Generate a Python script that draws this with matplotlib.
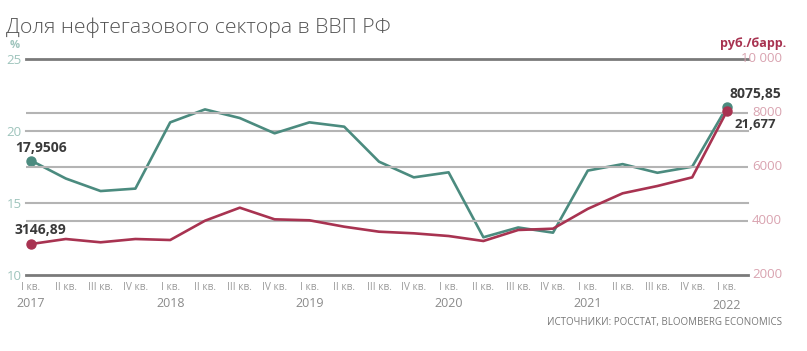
import matplotlib
matplotlib.use('Agg')
import matplotlib.pyplot as plt

# data
quarters = ['I кв.', 'II кв.', 'III кв.', 'IV кв.'] * 5 + ['I кв.']
years = ['2017', '2018', '2019', '2020', '2021', '2022']
share = [17.9506, 16.7, 15.83, 16.0, 20.6, 21.5, 20.9, 19.84, 20.6, 20.3, 17.87,
         16.78, 17.13, 12.62, 13.3, 12.94, 17.25, 17.7, 17.1, 17.52, 21.677]
rub_barrel = [3146.89, 3333, 3211, 3333, 3296, 4011, 4493, 4062, 4026, 3789, 3604,
              3544, 3444, 3259, 3667, 3716, 4450, 5025, 5296, 5617, 8075.85]
left_ticks = [10, 15, 20, 25]
right_ticks = [2000, 4000, 6000, 8000, 10000]

green = '#4b8b7f'
red = '#a83351'
plt.rcParams['font.family'] = ['Open Sans', 'DejaVu Sans']

W, H = 807, 351
fig = plt.figure(figsize=(W / 100, H / 100), dpi=100)
ax = fig.add_axes([26 / W, (H - 275) / H, (748 - 26) / W, (275 - 59) / H])
ax2 = ax.twinx()

x = list(range(len(share)))
ax.set_xlim(-5 / 34.8, (748 - 31) / 34.8)
ax.set_ylim(10, 25)
ax2.set_ylim(2000, 10000)

# gridlines for both scales
for v in left_ticks:
    edge = v in (10, 25)
    ax.axhline(v, color='#7a7a7a' if edge else '#b4b4b4', lw=2.0 if edge else 1.5,
               zorder=1, clip_on=False)
for v in right_ticks:
    if v in (2000, 10000):
        continue
    ax2.axhline(v, color='#b4b4b4', lw=1.5, zorder=1)

ax.plot(x, share, color=green, lw=1.9, zorder=3)
ax2.plot(x, rub_barrel, color=red, lw=1.9, zorder=3)
ax.plot([x[0], x[-1]], [share[0], share[-1]], 'o', color=green, ms=6.5, zorder=4)
ax2.plot([x[0], x[-1]], [rub_barrel[0], rub_barrel[-1]], 'o', color=red, ms=6.5, zorder=4)

for a in (ax, ax2):
    for s in a.spines.values():
        s.set_visible(False)
    a.tick_params(length=0)
ax.set_yticks(left_ticks)
ax.set_yticklabels([str(v) for v in left_ticks], color='#9ec4bc', fontsize=9.5)
ax.tick_params(axis='y', pad=3)
ax2.set_yticks([])
for v in right_ticks:
    lbl = f'{v:,}'.replace(',', ' ') if v >= 10000 else str(v)
    ax2.text((782 - 26) / 722, v, lbl, transform=ax2.get_yaxis_transform(),
             ha='right', va='center', color='#d9a3b0', fontsize=9.5)

ax.set_xticks(x)
ax.set_xticklabels(quarters, color='#9a9a9a', fontsize=7.3)
ax.tick_params(axis='x', pad=5)
for i, q in enumerate(quarters):
    if q == 'I кв.':
        yr = years[i // 4]
        ax.text(i, -0.1 if yr != '2022' else -0.112, yr, transform=ax.get_xaxis_transform(),
                ha='center', va='top', color='#8a8a8a', fontsize=9)

# value labels
lab = dict(fontsize=10, fontweight='bold', color='#3a3a3a', va='center',
           textcoords='offset pixels')
ax.annotate('17,9506', (x[0], share[0]), xytext=(-16, 13), **lab)
ax2.annotate('3146,89', (x[0], rub_barrel[0]), xytext=(-16, 14), **lab)
ax2.annotate('8075,85', (x[-1], rub_barrel[-1]), xytext=(3, 17), **lab)
ax.annotate('21,677', (x[-1], share[-1]), xytext=(8, -18), fontsize=9.5,
            fontweight='bold', color='#3a3a3a', va='center', textcoords='offset pixels')

fig.text(6 / W, 1 - 28 / H, 'Доля нефтегазового сектора в ВВП РФ', fontsize=15.3,
         color='#555555', va='center', fontweight='light')
fig.text(15 / W, 1 - 45 / H, '%', fontsize=8, color='#9ec4bc', ha='center', va='center', fontweight='bold')
fig.text(786 / W, 1 - 44 / H, 'руб./барр.', fontsize=9, color=red, ha='right', va='center', fontweight='bold')
fig.text(782 / W, 1 - 322 / H, 'ИСТОЧНИКИ: РОССТАТ, BLOOMBERG ECONOMICS', fontsize=7,
         color='#777777', ha='right', va='center')

fig.savefig('out.png', dpi=100)
